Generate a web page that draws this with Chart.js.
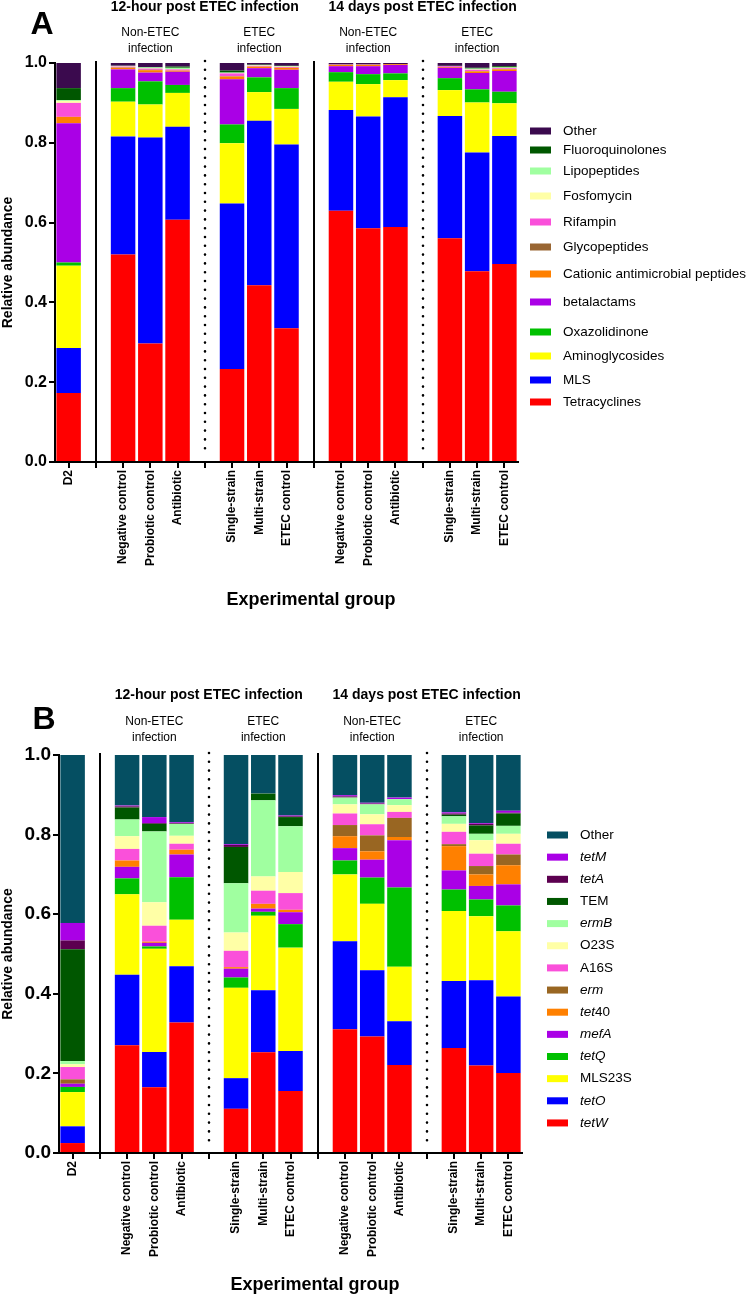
<!DOCTYPE html>
<html>
<head>
<meta charset="utf-8">
<script src="https://cdn.jsdelivr.net/npm/chart.js@4.4.1/dist/chart.umd.min.js"></script>
<style>
    html, body { margin: 0; padding: 0; background: #fff; }
    #wrap { position: relative; width: 750px; height: 1297px; }
    #panelA { position: absolute; left: 0; top: 0; }
    #panelB { position: absolute; left: 0; top: 625px; }
</style>
</head>
<body>
<div id="wrap">
    <canvas id="panelA" width="750" height="625"></canvas>
    <canvas id="panelB" width="750" height="672"></canvas>
</div>
<script>
var FONT = "'Liberation Sans', Arial, Helvetica, sans-serif";

// bars, left to right
var categories = ['D2',
    'Negative control', 'Probiotic control', 'Antibiotic',
    'Single-strain', 'Multi-strain', 'ETEC control',
    'Negative control', 'Probiotic control', 'Antibiotic',
    'Single-strain', 'Multi-strain', 'ETEC control'];
var timeTitles = ['12-hour post ETEC infection', '14 days post ETEC infection'];
var groupTitles = [['Non-ETEC', 'infection'], ['ETEC', 'infection'], ['Non-ETEC', 'infection'], ['ETEC', 'infection']];
// an empty slot follows these bars: solid, dotted, solid, dotted separator
var gapAfter = [0, 3, 6, 9];
var yTickStep = 0.2;

// panel A - antibiotic classes (bottom to top of each bar)
var tetracyclines    = [0.173, 0.520, 0.297, 0.607, 0.233, 0.443, 0.335, 0.630, 0.586, 0.589, 0.561, 0.478, 0.496];
var mls              = [0.113, 0.296, 0.516, 0.233, 0.415, 0.412, 0.461, 0.252, 0.280, 0.325, 0.306, 0.298, 0.321];
var aminoglycosides  = [0.206, 0.087, 0.083, 0.085, 0.151, 0.072, 0.089, 0.071, 0.081, 0.043, 0.065, 0.125, 0.082];
var oxazolidinone    = [0.008, 0.034, 0.058, 0.020, 0.047, 0.037, 0.052, 0.024, 0.025, 0.017, 0.030, 0.033, 0.029];
var betalactams      = [0.349, 0.047, 0.022, 0.033, 0.113, 0.023, 0.046, 0.015, 0.020, 0.021, 0.026, 0.041, 0.052];
var cationic         = [0.016, 0.004, 0.006, 0.003, 0.007, 0.004, 0.005, 0.003, 0.003, 0.002, 0.002, 0.004, 0.004];
var glycopeptides    = [0.000, 0.001, 0.001, 0.000, 0.001, 0.000, 0.000, 0.001, 0.001, 0.000, 0.000, 0.001, 0.001];
var rifampin         = [0.035, 0.002, 0.003, 0.003, 0.007, 0.002, 0.002, 0.001, 0.001, 0.000, 0.002, 0.003, 0.002];
var fosfomycin       = [0.005, 0.001, 0.001, 0.001, 0.001, 0.001, 0.001, 0.000, 0.000, 0.000, 0.000, 0.001, 0.001];
var lipopeptides     = [0.002, 0.001, 0.002, 0.003, 0.001, 0.001, 0.001, 0.000, 0.000, 0.000, 0.000, 0.002, 0.001];
var fluoroquinolones = [0.030, 0.000, 0.001, 0.003, 0.005, 0.001, 0.001, 0.000, 0.000, 0.000, 0.001, 0.002, 0.003];
var otherA           = [0.063, 0.007, 0.010, 0.009, 0.019, 0.004, 0.007, 0.003, 0.003, 0.003, 0.007, 0.012, 0.008];

// panel B - genes (bottom to top of each bar)
var tetW   = [0.025, 0.271, 0.165, 0.328, 0.111, 0.253, 0.156, 0.311, 0.293, 0.221, 0.264, 0.220, 0.201];
var tetO   = [0.042, 0.177, 0.089, 0.141, 0.077, 0.156, 0.100, 0.221, 0.166, 0.110, 0.168, 0.214, 0.192];
var mls23S = [0.086, 0.202, 0.259, 0.117, 0.227, 0.187, 0.260, 0.168, 0.167, 0.137, 0.176, 0.161, 0.164];
var tetQ   = [0.013, 0.040, 0.006, 0.107, 0.026, 0.010, 0.059, 0.035, 0.066, 0.199, 0.054, 0.042, 0.065];
var mefA   = [0.008, 0.029, 0.009, 0.057, 0.022, 0.008, 0.030, 0.031, 0.045, 0.119, 0.048, 0.034, 0.053];
var tet40  = [0.000, 0.016, 0.003, 0.012, 0.004, 0.012, 0.006, 0.030, 0.021, 0.008, 0.061, 0.029, 0.048];
var erm    = [0.011, 0.000, 0.000, 0.000, 0.000, 0.000, 0.000, 0.028, 0.040, 0.048, 0.005, 0.021, 0.027];
var a16S   = [0.031, 0.029, 0.040, 0.015, 0.041, 0.033, 0.042, 0.029, 0.028, 0.015, 0.031, 0.031, 0.027];
var o23S   = [0.007, 0.032, 0.059, 0.020, 0.046, 0.036, 0.053, 0.023, 0.025, 0.017, 0.020, 0.034, 0.025];
var ermB   = [0.008, 0.042, 0.178, 0.030, 0.124, 0.191, 0.115, 0.017, 0.025, 0.015, 0.019, 0.016, 0.020];
var tem    = [0.281, 0.030, 0.019, 0.000, 0.091, 0.017, 0.023, 0.000, 0.000, 0.000, 0.004, 0.021, 0.031];
var tetA   = [0.022, 0.003, 0.002, 0.002, 0.005, 0.000, 0.002, 0.003, 0.002, 0.000, 0.003, 0.004, 0.002];
var tetM   = [0.044, 0.002, 0.015, 0.002, 0.002, 0.000, 0.002, 0.003, 0.002, 0.004, 0.003, 0.002, 0.005];
var otherB = [0.422, 0.127, 0.156, 0.169, 0.224, 0.097, 0.152, 0.101, 0.120, 0.107, 0.144, 0.171, 0.140];

var italicNames = ['tetM', 'tetA', 'ermB', 'erm', 'mefA', 'tetQ', 'tetO', 'tetW'];

// put an empty slot after each group
function withGaps(arr, filler) {
    var out = [];
    arr.forEach(function (v, i) {
        out.push(v);
        if (gapAfter.indexOf(i) >= 0) out.push(filler);
    });
    return out;
}

function gapSlots() {
    return gapAfter.map(function (g, k) { return g + k + 1; });
}

function legendParts(name) {
    if (name === 'tet40') return [['tet', true], ['40', false]];
    return [[name, italicNames.indexOf(name) >= 0]];
}

var decor = {
    id: 'decor',
    afterDraw: function (chart, args, o) {
        var ctx = chart.ctx, x = chart.scales.x, area = chart.chartArea;
        var slots = gapSlots();
        ctx.save();

        // group separators
        slots.forEach(function (slot, k) {
            var px = Math.round(x.getPixelForValue(slot));
            ctx.beginPath();
            ctx.strokeStyle = '#000';
            if (k % 2 === 1) {
                ctx.lineWidth = 2.6;
                ctx.lineCap = 'round';
                ctx.setLineDash([0, 8.8]);
                ctx.moveTo(px, area.top - 2);
                ctx.lineTo(px, area.bottom - 6);
            } else {
                ctx.lineWidth = 2;
                ctx.lineCap = 'butt';
                ctx.setLineDash([]);
                ctx.moveTo(px, area.top - 2);
                ctx.lineTo(px, area.bottom + 6);
            }
            ctx.stroke();
        });
        ctx.setLineDash([]);

        ctx.fillStyle = '#000';
        ctx.textAlign = 'center';
        ctx.textBaseline = 'middle';

        // time point titles
        ctx.font = 'bold 14px ' + FONT;
        timeTitles.forEach(function (t, k) {
            ctx.fillText(t, x.getPixelForValue(slots[k * 2 + 1]), o.titleY);
        });

        // group titles
        ctx.font = '12px ' + FONT;
        groupTitles.forEach(function (lines, k) {
            var cx = x.getPixelForValue(slots[k] + 2);
            ctx.fillText(lines[0], cx, o.subY);
            ctx.fillText(lines[1], cx, o.subY + 16);
        });

        // panel letter
        ctx.font = 'bold 32px ' + FONT;
        ctx.fillText(o.letter, o.letterX, o.letterY);

        // x axis title
        ctx.font = 'bold 18px ' + FONT;
        ctx.fillText('Experimental group', o.xTitleX, o.xTitleY);

        // legend, top entry first
        var sets = chart.data.datasets.slice().reverse();
        ctx.textAlign = 'left';
        sets.forEach(function (ds, i) {
            var y = o.legendY(i);
            ctx.fillStyle = ds.backgroundColor;
            ctx.fillRect(o.legendX, y - 3.5, 21, 7);
            ctx.fillStyle = '#000';
            var tx = o.legendX + 33;
            legendParts(ds.label).forEach(function (p) {
                ctx.font = (p[1] ? 'italic ' : '') + '13.5px ' + FONT;
                ctx.fillText(p[0], tx, y);
                tx += ctx.measureText(p[0]).width;
            });
        });

        ctx.restore();
    }
};

function makeChart(id, series, o) {
    var datasets = series.map(function (s) {
        return {
            label: s[0],
            data: withGaps(s[1], null),
            backgroundColor: s[2],
            borderWidth: 0,
            barPercentage: 0.9,
            categoryPercentage: 1.0
        };
    });

    return new Chart(document.getElementById(id), {
        type: 'bar',
        data: {
            labels: withGaps(categories, ''),
            datasets: datasets
        },
        options: {
            responsive: false,
            animation: false,
            layout: {padding: {left: 0, right: o.padRight, top: o.padTop, bottom: 0}},
            plugins: {
                legend: {display: false},
                tooltip: {enabled: false},
                decor: o
            },
            scales: {
                x: {
                    stacked: true,
                    offset: true,
                    grid: {
                        offset: false,
                        drawOnChartArea: false,
                        drawTicks: true,
                        tickLength: 6,
                        color: '#000',
                        lineWidth: 2
                    },
                    border: {display: true, color: '#000', width: 2},
                    ticks: {
                        autoSkip: false,
                        minRotation: 90,
                        maxRotation: 90,
                        padding: 2,
                        color: '#000',
                        font: {family: FONT, size: 12, weight: 'bold'}
                    },
                    afterFit: function (scale) { scale.height = o.xHeight; }
                },
                y: {
                    stacked: true,
                    min: 0,
                    max: 1,
                    grid: {
                        drawOnChartArea: false,
                        drawTicks: true,
                        tickLength: 6,
                        color: '#000',
                        lineWidth: 2
                    },
                    border: {display: true, color: '#000', width: 2},
                    ticks: {
                        stepSize: yTickStep,
                        padding: 2,
                        color: '#000',
                        font: {family: FONT, size: o.yTickSize, weight: 'bold'},
                        callback: function (v) { return v.toFixed(1); }
                    },
                    title: {
                        display: true,
                        text: 'Relative abundance',
                        color: '#000',
                        padding: {top: 0, bottom: 0},
                        font: {family: FONT, size: 14, weight: 'bold'}
                    },
                    afterFit: function (scale) { scale.width = o.yWidth; }
                }
            }
        },
        plugins: [decor]
    });
}

var legendYA = [131, 150, 171, 196, 222, 247, 274, 302, 332, 356, 380, 402];

makeChart('panelA', [
    ['Tetracyclines', tetracyclines, '#ff0000'],
    ['MLS', mls, '#0000ff'],
    ['Aminoglycosides', aminoglycosides, '#ffff00'],
    ['Oxazolidinone', oxazolidinone, '#00c000'],
    ['betalactams', betalactams, '#aa00e6'],
    ['Cationic antimicrobial peptides', cationic, '#ff8000'],
    ['Glycopeptides', glycopeptides, '#996633'],
    ['Rifampin', rifampin, '#fa50da'],
    ['Fosfomycin', fosfomycin, '#ffffa6'],
    ['Lipopeptides', lipopeptides, '#a0ffa0'],
    ['Fluoroquinolones', fluoroquinolones, '#005700'],
    ['Other', otherA, '#3b0a4e']
], {
    padRight: 232, padTop: 63, xHeight: 163, yWidth: 55, yTickSize: 16,
    titleY: 7, subY: 33, letter: 'A', letterX: 42, letterY: 25,
    xTitleX: 311, xTitleY: 600,
    legendX: 530, legendY: function (i) { return legendYA[i]; }
});

makeChart('panelB', [
    ['tetW', tetW, '#ff0000'],
    ['tetO', tetO, '#0000ff'],
    ['MLS23S', mls23S, '#ffff00'],
    ['tetQ', tetQ, '#00c000'],
    ['mefA', mefA, '#aa00e6'],
    ['tet40', tet40, '#ff8000'],
    ['erm', erm, '#996622'],
    ['A16S', a16S, '#fa50da'],
    ['O23S', o23S, '#ffffa6'],
    ['ermB', ermB, '#a0ffa0'],
    ['TEM', tem, '#005700'],
    ['tetA', tetA, '#5c0050'],
    ['tetM', tetM, '#aa00e6'],
    ['Other', otherB, '#054f62']
], {
    padRight: 228, padTop: 130, xHeight: 144, yWidth: 59, yTickSize: 19,
    titleY: 70, subY: 97, letter: 'B', letterX: 44, letterY: 95,
    xTitleX: 315, xTitleY: 660,
    legendX: 547, legendY: function (i) { return 210 + i * 22.15; }
});
</script>
</body>
</html>
